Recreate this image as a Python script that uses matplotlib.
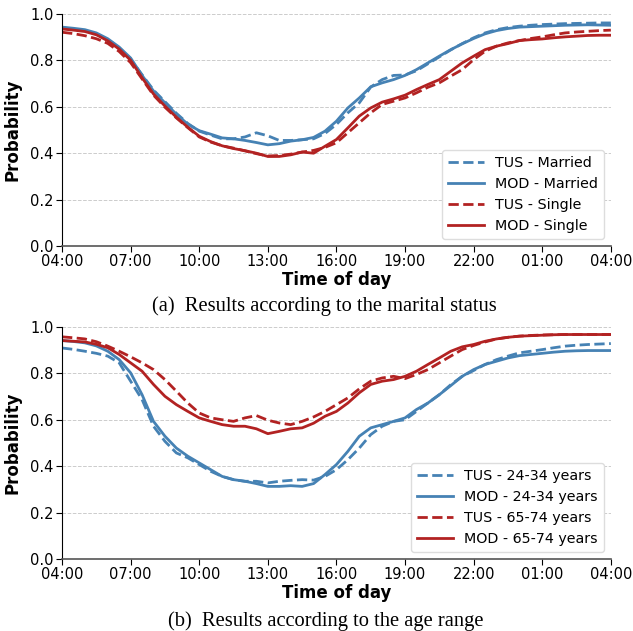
import numpy as np
import matplotlib
matplotlib.use("Agg")
import matplotlib.pyplot as plt

# Time axis: half-hourly samples from 04:00 to 04:00 next day (hours since midnight)
hours = np.arange(4.0, 28.01, 0.5)
tick_hours = [4, 7, 10, 13, 16, 19, 22, 25, 28]
tick_labels = ["04:00", "07:00", "10:00", "13:00", "16:00", "19:00", "22:00", "01:00", "04:00"]

# (a) marital status
tus_married = [0.940, 0.935, 0.928, 0.913, 0.888, 0.852, 0.805, 0.738, 0.672, 0.622,
               0.572, 0.528, 0.495, 0.478, 0.462, 0.462, 0.470, 0.488, 0.475, 0.455,
               0.455, 0.458, 0.462, 0.485, 0.524, 0.574, 0.617, 0.685, 0.717, 0.735,
               0.737, 0.755, 0.785, 0.815, 0.845, 0.872, 0.897, 0.918, 0.932, 0.941,
               0.947, 0.951, 0.954, 0.956, 0.958, 0.959, 0.960, 0.961, 0.961]
mod_married = [0.943, 0.938, 0.932, 0.918, 0.893, 0.857, 0.810, 0.735, 0.668, 0.617,
               0.568, 0.525, 0.497, 0.482, 0.466, 0.462, 0.455, 0.446, 0.436, 0.441,
               0.452, 0.458, 0.468, 0.495, 0.538, 0.595, 0.638, 0.686, 0.703, 0.717,
               0.735, 0.760, 0.789, 0.818, 0.846, 0.871, 0.894, 0.914, 0.928, 0.937,
               0.943, 0.945, 0.947, 0.949, 0.951, 0.952, 0.953, 0.952, 0.951]
tus_single = [0.921, 0.915, 0.906, 0.893, 0.873, 0.838, 0.790, 0.720, 0.650, 0.598,
              0.552, 0.510, 0.470, 0.448, 0.432, 0.422, 0.410, 0.398, 0.388, 0.390,
              0.396, 0.405, 0.412, 0.425, 0.445, 0.488, 0.531, 0.574, 0.610, 0.624,
              0.638, 0.660, 0.684, 0.703, 0.732, 0.760, 0.803, 0.839, 0.861, 0.875,
              0.885, 0.894, 0.901, 0.910, 0.918, 0.922, 0.925, 0.928, 0.930]
mod_single = [0.935, 0.930, 0.924, 0.910, 0.884, 0.848, 0.800, 0.725, 0.655, 0.603,
              0.555, 0.512, 0.473, 0.450, 0.432, 0.420, 0.411, 0.400, 0.386, 0.386,
              0.393, 0.405, 0.400, 0.430, 0.459, 0.509, 0.560, 0.595, 0.620, 0.634,
              0.650, 0.674, 0.696, 0.717, 0.753, 0.789, 0.818, 0.846, 0.861, 0.872,
              0.885, 0.889, 0.892, 0.897, 0.901, 0.904, 0.907, 0.908, 0.908]

# (b) age range
tus_24_34 = [0.909, 0.903, 0.895, 0.886, 0.874, 0.845, 0.766, 0.687, 0.572, 0.507,
             0.457, 0.436, 0.407, 0.378, 0.356, 0.342, 0.335, 0.335, 0.328, 0.335,
             0.339, 0.342, 0.340, 0.356, 0.385, 0.428, 0.478, 0.536, 0.572, 0.593,
             0.600, 0.636, 0.672, 0.708, 0.751, 0.787, 0.812, 0.838, 0.859, 0.874,
             0.888, 0.895, 0.902, 0.910, 0.917, 0.921, 0.924, 0.926, 0.928]
mod_24_34 = [0.941, 0.937, 0.931, 0.918, 0.895, 0.859, 0.802, 0.708, 0.593, 0.529,
             0.478, 0.443, 0.414, 0.385, 0.356, 0.342, 0.335, 0.325, 0.313, 0.313,
             0.316, 0.313, 0.325, 0.364, 0.407, 0.464, 0.529, 0.565, 0.579, 0.593,
             0.608, 0.644, 0.672, 0.708, 0.747, 0.787, 0.816, 0.838, 0.852, 0.866,
             0.876, 0.881, 0.886, 0.891, 0.895, 0.897, 0.898, 0.898, 0.898]
tus_65_74 = [0.957, 0.953, 0.948, 0.936, 0.917, 0.895, 0.871, 0.845, 0.816, 0.773,
             0.723, 0.672, 0.629, 0.608, 0.600, 0.593, 0.608, 0.618, 0.598, 0.586,
             0.579, 0.593, 0.612, 0.636, 0.665, 0.694, 0.733, 0.766, 0.780, 0.787,
             0.777, 0.795, 0.816, 0.845, 0.874, 0.902, 0.920, 0.935, 0.948, 0.955,
             0.960, 0.963, 0.965, 0.966, 0.967, 0.967, 0.967, 0.967, 0.967]
mod_65_74 = [0.941, 0.938, 0.935, 0.925, 0.910, 0.881, 0.845, 0.809, 0.752, 0.701,
             0.665, 0.636, 0.608, 0.593, 0.579, 0.572, 0.572, 0.561, 0.540, 0.550,
             0.561, 0.565, 0.585, 0.615, 0.636, 0.672, 0.716, 0.752, 0.766, 0.773,
             0.787, 0.809, 0.838, 0.866, 0.895, 0.914, 0.924, 0.938, 0.948, 0.955,
             0.960, 0.962, 0.964, 0.966, 0.967, 0.967, 0.967, 0.967, 0.967]

BLUE = "#4682b4"
RED = "#b22222"

panels = [
    {
        "series": [("TUS - Married", tus_married, BLUE, "--"),
                   ("MOD - Married", mod_married, BLUE, "-"),
                   ("TUS - Single", tus_single, RED, "--"),
                   ("MOD - Single", mod_single, RED, "-")],
        "caption": "(a)  Results according to the marital status",
        "rect": [0.098, 0.610, 0.867, 0.368],
        "caption_xy": (0.512, 0.515),
    },
    {
        "series": [("TUS - 24-34 years", tus_24_34, BLUE, "--"),
                   ("MOD - 24-34 years", mod_24_34, BLUE, "-"),
                   ("TUS - 65-74 years", tus_65_74, RED, "--"),
                   ("MOD - 65-74 years", mod_65_74, RED, "-")],
        "caption": "(b)  Results according to the age range",
        "rect": [0.098, 0.114, 0.867, 0.368],
        "caption_xy": (0.515, 0.016),
    },
]

fig = plt.figure(figsize=(6.33, 6.31), dpi=100)

for p in panels:
    ax = fig.add_axes(p["rect"])
    for label, vals, color, ls in p["series"]:
        ax.plot(hours, vals, color=color, linestyle=ls, linewidth=2.0, label=label)
    ax.set_xlim(4, 28)
    ax.set_ylim(0, 1.0)
    ax.set_xticks(tick_hours)
    ax.set_xticklabels(tick_labels)
    ax.set_yticks([0.0, 0.2, 0.4, 0.6, 0.8, 1.0])
    ax.set_yticklabels(["0.0", "0.2", "0.4", "0.6", "0.8", "1.0"])
    ax.tick_params(labelsize=10.5, length=4, width=0.8, pad=2)
    ax.grid(axis="y", linestyle="--", color="#cccccc", linewidth=0.7)
    ax.set_axisbelow(True)
    ax.spines["top"].set_visible(False)
    ax.spines["right"].set_visible(False)
    ax.spines["bottom"].set_color("#555555")
    ax.spines["bottom"].set_linewidth(1.2)
    ax.spines["left"].set_color("black")
    ax.set_xlabel("Time of day", fontsize=12, fontweight="bold", labelpad=1)
    ax.set_ylabel("Probability", fontsize=12, fontweight="bold", labelpad=6)
    ax.legend(loc="lower right", fontsize=10.3, frameon=True, framealpha=1.0,
              edgecolor="#dddddd", handlelength=2.5, borderaxespad=0.5)
    cx, cy = p["caption_xy"]
    fig.text(cx, cy, p["caption"], ha="center", va="center",
             fontsize=14.8, family="Liberation Serif")

fig.savefig("out.png", dpi=100)
